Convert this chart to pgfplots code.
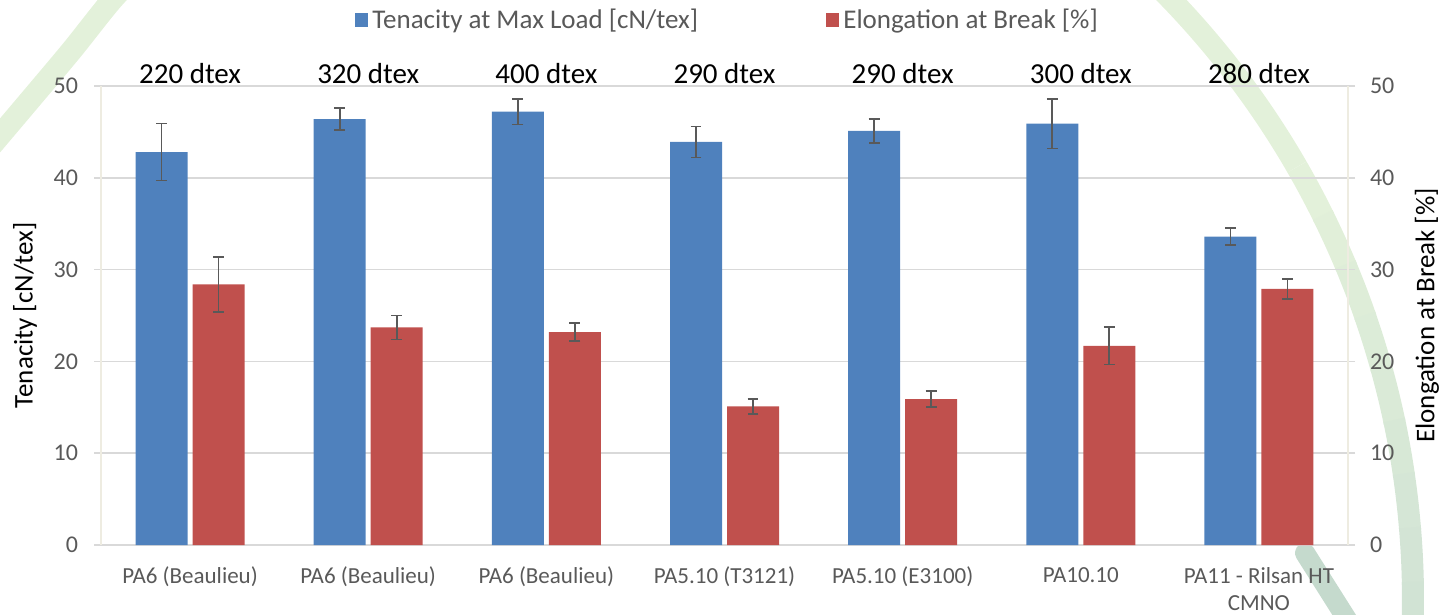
\documentclass[border=0pt]{standalone}
\usepackage{pgfplots}
\pgfplotsset{compat=1.18}
\usepackage{pgfplotstable}
\usepackage{fontspec}
\setmainfont{Carlito}
\definecolor{cblue}{HTML}{4F81BD}
\definecolor{cred}{HTML}{C0504D}
\definecolor{cgray}{HTML}{595959}
\definecolor{cgrid}{HTML}{D9D9D9}
\definecolor{caxis}{HTML}{EEECE1}
\definecolor{arcA}{HTML}{E3F1DA}
\definecolor{arcC}{HTML}{CCDFD3}
\definecolor{arcD}{HTML}{C5DACD}

\pgfplotstableread{
x ten tenerr elo eloerr
0 42.8 3.1  28.4 3.0
1 46.4 1.2  23.7 1.3
2 47.2 1.4  23.2 1.0
3 43.9 1.7  15.1 0.8
4 45.1 1.3  15.9 0.85
5 45.9 2.7  21.7 2.05
6 33.6 0.95 27.9 1.1
}\datatab

\begin{document}
\begin{tikzpicture}
\path[use as bounding box] (0,0) rectangle (722pt,-307.5pt);
% decorative background arcs (pixel coordinates)
\begin{scope}[x=0.5pt,y=-0.5pt]
\draw[arcA, line width=11pt] plot[smooth] coordinates {(150,-40) (112,0) (72,50) (30,100) (-25,165)};
\draw[arcA, line width=11pt] (547,600) ++(-50:866) arc[start angle=-50, end angle=-30, radius=866];
\foreach \k in {0,...,9}{
  \pgfmathsetmacro{\sa}{-30+3.6*\k}
  \pgfmathsetmacro{\ea}{\sa+3.8}
  \pgfmathsetmacro{\mx}{100-10*\k}
  \draw[arcA!\mx!arcC, line width=11pt] (547,600) ++(\sa:866) arc[start angle=\sa, end angle=\ea, radius=866];
}
\draw[arcC, line width=11pt] (547,600) ++(5.8:866) arc[start angle=5.8, end angle=8, radius=866];
\draw[arcD, line width=10pt, line cap=round] (1305,553) -- (1360,640);
\end{scope}
\begin{axis}[
  at={(50.5pt,-272.5pt)}, anchor=south west,
  scale only axis, width=623.5pt, height=229.5pt,
  clip=false,
  ymin=0, ymax=50, ytick={0,10,20,30,40,50},
  xmin=-0.5, xmax=6.5, xtick={0,1,2,3,4,5,6},
  xticklabels={PA6 (Beaulieu),PA6 (Beaulieu),PA6 (Beaulieu),PA5.10 (T3121),PA5.10 (E3100),PA10.10,{PA11 - Rilsan HT\\CMNO}},
  ybar=2.5pt, bar width=26pt,
  ymajorgrids, grid style={cgrid, line width=0.75pt},
  axis x line*=bottom, axis y line*=left,
  x axis line style={cgrid, line width=0.75pt},
  y axis line style={caxis, line width=0.75pt},
  xtick style={draw=none},
  ytick style={cgrid, line width=0.75pt},
  tick align=outside, major tick length=3.5pt,
  /pgf/number format/assume math mode=true,
  tick label style={font=\fontsize{12}{13.5}\selectfont, text=cgray},
  xticklabel style={align=center, yshift=-4pt, font=\fontsize{11.5}{13.5}\selectfont},
  yticklabel style={xshift=-4.5pt},
  ylabel={Tenacity [cN/tex]},
  ylabel style={at={(axis description cs:0,0.5)}, anchor=center, yshift=38pt, font=\fontsize{13.5}{15}\selectfont},
  legend style={at={(0.5,1)}, anchor=center, yshift=33pt, xshift=2pt, draw=none, fill=none,
    legend columns=2, font=\fontsize{13.5}{15}\selectfont, text=cgray,
    /tikz/every even column/.append style={column sep=62pt}},
  legend image code/.code={\fill[#1] (0pt,-3.3pt) rectangle (6.6pt,3.3pt);},
]
\addplot[fill=cblue, draw=none,
  error bars/.cd, y dir=both, y explicit,
  error bar style={cgray, line width=0.85pt},
  error mark options={rotate=90, cgray, mark size=2.7pt, line width=0.85pt}]
  table[x=x, y=ten, y error=tenerr]{\datatab};
\addlegendentry{Tenacity at Max Load [cN/tex]}
\addplot[fill=cred, draw=none,
  error bars/.cd, y dir=both, y explicit,
  error bar style={cgray, line width=0.85pt},
  error mark options={rotate=90, cgray, mark size=2.7pt, line width=0.85pt}]
  table[x=x, y=elo, y error=eloerr]{\datatab};
\addlegendentry{Elongation at Break [\%]}
\foreach \i/\t in {0/220,1/320,2/400,3/290,4/290,5/300,6/280}{
  \edef\tmp{\noexpand\node[anchor=base, font=\noexpand\fontsize{14.5}{16}\noexpand\selectfont, yshift=1.5pt] at (axis cs:\i,50) {\t\space dtex};}
  \tmp
}
\end{axis}
\begin{axis}[
  at={(50.5pt,-272.5pt)}, anchor=south west,
  scale only axis, width=623.5pt, height=229.5pt,
  ymin=0, ymax=50, ytick={0,10,20,30,40,50},
  xmin=-0.5, xmax=6.5,
  axis y line*=right, axis x line=none,
  y axis line style={caxis, line width=0.75pt},
  ytick style={cgrid, line width=0.75pt},
  tick align=outside, major tick length=3.5pt,
  /pgf/number format/assume math mode=true,
  tick label style={font=\fontsize{12}{13.5}\selectfont, text=cgray},
  yticklabel style={xshift=4pt},
  ylabel={Elongation at Break [\%]},
  ylabel style={at={(axis description cs:1,0.5)}, anchor=center, yshift=-39.5pt, font=\fontsize{13.5}{15}\selectfont},
]
\addplot[draw=none] coordinates {(0,0)};
\end{axis}
\end{tikzpicture}
\end{document}
